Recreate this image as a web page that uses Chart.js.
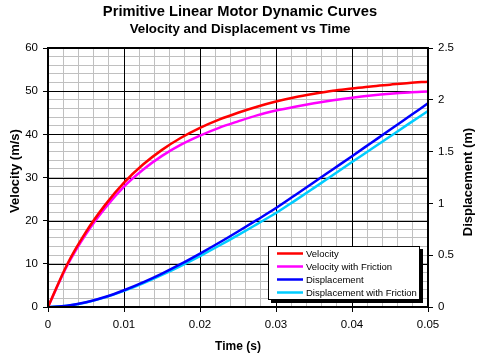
<!DOCTYPE html>
<html>
<head>
<meta charset="utf-8">
<script src="https://cdn.jsdelivr.net/npm/chart.js@4.4.1/dist/chart.umd.min.js"></script>
<style>
  html, body { margin: 0; padding: 0; background: #ffffff; }
</style>
</head>
<body>
<canvas id="myChart" width="480" height="358"></canvas>
<script>
const FONT = "'Liberation Sans', Arial, sans-serif";

// time (s)
const time = [0, 0.0025, 0.005, 0.0075, 0.01, 0.0125, 0.015, 0.0175, 0.02, 0.0225, 0.025,
  0.0275, 0.03, 0.0325, 0.035, 0.0375, 0.04, 0.0425, 0.045, 0.0475, 0.05];

// velocity (m/s), left axis
const velocity = [0, 9.8, 17.4, 23.6, 28.8, 33.0, 36.4, 39.2, 41.5, 43.4, 45.0,
  46.4, 47.6, 48.6, 49.4, 50.1, 50.6, 51.1, 51.5, 51.9, 52.2];
const velocityFriction = [0, 9.5, 16.9, 22.9, 27.9, 31.8, 35.0, 37.6, 39.7, 41.5, 43.0,
  44.4, 45.5, 46.4, 47.2, 47.9, 48.5, 49.0, 49.4, 49.7, 49.9];

// displacement (m), right axis
const displacement = [0, 0.012, 0.045, 0.096, 0.162, 0.238, 0.323, 0.416, 0.516, 0.620, 0.729,
  0.841, 0.955, 1.079, 1.204, 1.330, 1.456, 1.583, 1.710, 1.838, 1.966];
const displacementFriction = [0, 0.012, 0.044, 0.093, 0.155, 0.228, 0.310, 0.398, 0.492, 0.591, 0.694,
  0.800, 0.907, 1.027, 1.150, 1.274, 1.400, 1.522, 1.646, 1.770, 1.892];

const seriesNames = ["Velocity", "Velocity with Friction", "Displacement", "Displacement with Friction"];
const seriesColors = ["#ff0000", "#ff00ff", "#0000ff", "#00ccff"];

const titleText = "Primitive Linear Motor Dynamic Curves";
const subtitleText = "Velocity and Displacement vs Time";
const xTitle = "Time (s)";
const yTitle = "Velocity (m/s)";
const y1Title = "Displacement (m)";

const toPoints = (ys) => ys.map((y, i) => ({ x: time[i], y: y }));
const isMajor = (v, step) => Math.abs(v / step - Math.round(v / step)) < 1e-6;

const makeDataset = (i, values, axis) => ({
  label: seriesNames[i],
  data: toPoints(values),
  yAxisID: axis,
  borderColor: seriesColors[i],
  backgroundColor: seriesColors[i],
  borderWidth: 2.5,
  pointRadius: 0,
  cubicInterpolationMode: "monotone",
  fill: false,
});

const extras = {
  id: "extras",
  // black major grid lines go over the grey minor ones, under the data
  beforeDatasetsDraw(chart) {
    const ctx = chart.ctx;
    const a = chart.chartArea;
    const sx = chart.scales.x, sy = chart.scales.y;
    ctx.save();
    ctx.strokeStyle = "#000";
    ctx.lineWidth = 1;
    ctx.beginPath();
    sx.ticks.forEach((t) => {
      if (!isMajor(t.value, 0.01)) return;
      const px = Math.round(sx.getPixelForValue(t.value)) + 0.5;
      ctx.moveTo(px, a.top);
      ctx.lineTo(px, a.bottom);
    });
    sy.ticks.forEach((t) => {
      if (!isMajor(t.value, 10)) return;
      const py = Math.round(sy.getPixelForValue(t.value)) + 0.5;
      ctx.moveTo(a.left, py);
      ctx.lineTo(a.right, py);
    });
    ctx.stroke();
    ctx.restore();
  },
  // frame, vertical axis titles and the boxed legend inside the plot
  afterDatasetsDraw(chart) {
    const ctx = chart.ctx;
    const a = chart.chartArea;
    ctx.save();
    ctx.strokeStyle = "#000";
    ctx.lineWidth = 2;
    ctx.strokeRect(a.left, a.top, a.right - a.left, a.bottom - a.top);

    // legend
    const lx = 268, ly = 246, lw = 152, lh = 54;
    ctx.fillStyle = "#000";
    ctx.fillRect(lx + 3, ly + 3, lw, lh);
    ctx.fillStyle = "#fff";
    ctx.fillRect(lx, ly, lw, lh);
    ctx.lineWidth = 1;
    ctx.strokeRect(lx + 0.5, ly + 0.5, lw - 1, lh - 1);
    ctx.font = "9.5px " + FONT;
    ctx.textBaseline = "middle";
    ctx.textAlign = "left";
    chart.data.datasets.forEach((ds, i) => {
      const y = ly + 7.5 + i * 13;
      ctx.strokeStyle = ds.borderColor;
      ctx.lineWidth = 2.5;
      ctx.beginPath();
      ctx.moveTo(lx + 9, y);
      ctx.lineTo(lx + 35, y);
      ctx.stroke();
      ctx.fillStyle = "#000";
      ctx.fillText(ds.label, lx + 38, y + 0.5);
    });

    // vertical titles, both read bottom to top
    ctx.font = "bold 13px " + FONT;
    ctx.textAlign = "center";
    ctx.fillStyle = "#000";
    ctx.translate(15.5, 171);
    ctx.rotate(-Math.PI / 2);
    ctx.fillText(yTitle, 0, 0);
    ctx.setTransform(1, 0, 0, 1, 0, 0);
    ctx.translate(468, 182);
    ctx.rotate(-Math.PI / 2);
    ctx.fillText(y1Title, 0, 0);
    ctx.restore();
  },
};

const ctx = document.getElementById("myChart").getContext("2d");
const myChart = new Chart(ctx, {
  type: "line",
  plugins: [extras],
  data: {
    datasets: [
      makeDataset(0, velocity, "y"),
      makeDataset(1, velocityFriction, "y"),
      makeDataset(2, displacement, "y1"),
      makeDataset(3, displacementFriction, "y1"),
    ],
  },
  options: {
    responsive: false,
    animation: false,
    layout: { padding: 0 },
    plugins: {
      legend: { display: false },
      tooltip: { enabled: false },
      title: {
        display: true,
        text: titleText,
        color: "#000",
        font: { family: FONT, size: 14.7, weight: "bold", lineHeight: 1 },
        padding: { top: 5, bottom: 3 },
      },
      subtitle: {
        display: true,
        text: subtitleText,
        color: "#000",
        font: { family: FONT, size: 13.3, weight: "bold", lineHeight: 1 },
        padding: { top: 0, bottom: 12 },
      },
    },
    scales: {
      x: {
        type: "linear",
        min: 0,
        max: 0.05,
        afterFit: (scale) => { scale.height = 51; },
        border: { display: true, color: "#000", width: 2 },
        grid: {
          color: "#c0c0c0",
          tickColor: (c) => (isMajor(c.tick.value, 0.01) ? "#000" : "rgba(0,0,0,0)"),
          tickLength: 5,
          lineWidth: 1,
        },
        ticks: {
          stepSize: 0.002,
          autoSkip: false,
          maxRotation: 0,
          padding: 6,
          color: "#000",
          font: { family: FONT, size: 11.5 },
          callback: (v) => (isMajor(v, 0.01) ? String(+v.toFixed(2)) : ""),
        },
        title: {
          display: true,
          text: xTitle,
          color: "#000",
          font: { family: FONT, size: 12, weight: "bold", lineHeight: 1.2 },
          padding: { top: 0, bottom: 4 },
        },
      },
      y: {
        position: "left",
        min: 0,
        max: 60,
        afterFit: (scale) => { scale.width = 48; },
        border: { display: true, color: "#000", width: 2 },
        grid: {
          color: "#c0c0c0",
          tickColor: (c) => (isMajor(c.tick.value, 10) ? "#000" : "rgba(0,0,0,0)"),
          tickLength: 5,
          lineWidth: 1,
        },
        ticks: {
          stepSize: 2,
          autoSkip: false,
          padding: 5,
          color: "#000",
          font: { family: FONT, size: 11.5 },
          callback: (v) => (isMajor(v, 10) ? String(v) : ""),
        },
      },
      y1: {
        position: "right",
        min: 0,
        max: 2.5,
        afterFit: (scale) => { scale.width = 52; },
        border: { display: true, color: "#000", width: 2 },
        grid: {
          drawOnChartArea: false,
          color: "#000",
          tickLength: 5,
          lineWidth: 1,
        },
        ticks: {
          stepSize: 0.5,
          padding: 5,
          color: "#000",
          font: { family: FONT, size: 11.5 },
          callback: (v) => String(v),
        },
      },
    },
  },
});
</script>
</body>
</html>
